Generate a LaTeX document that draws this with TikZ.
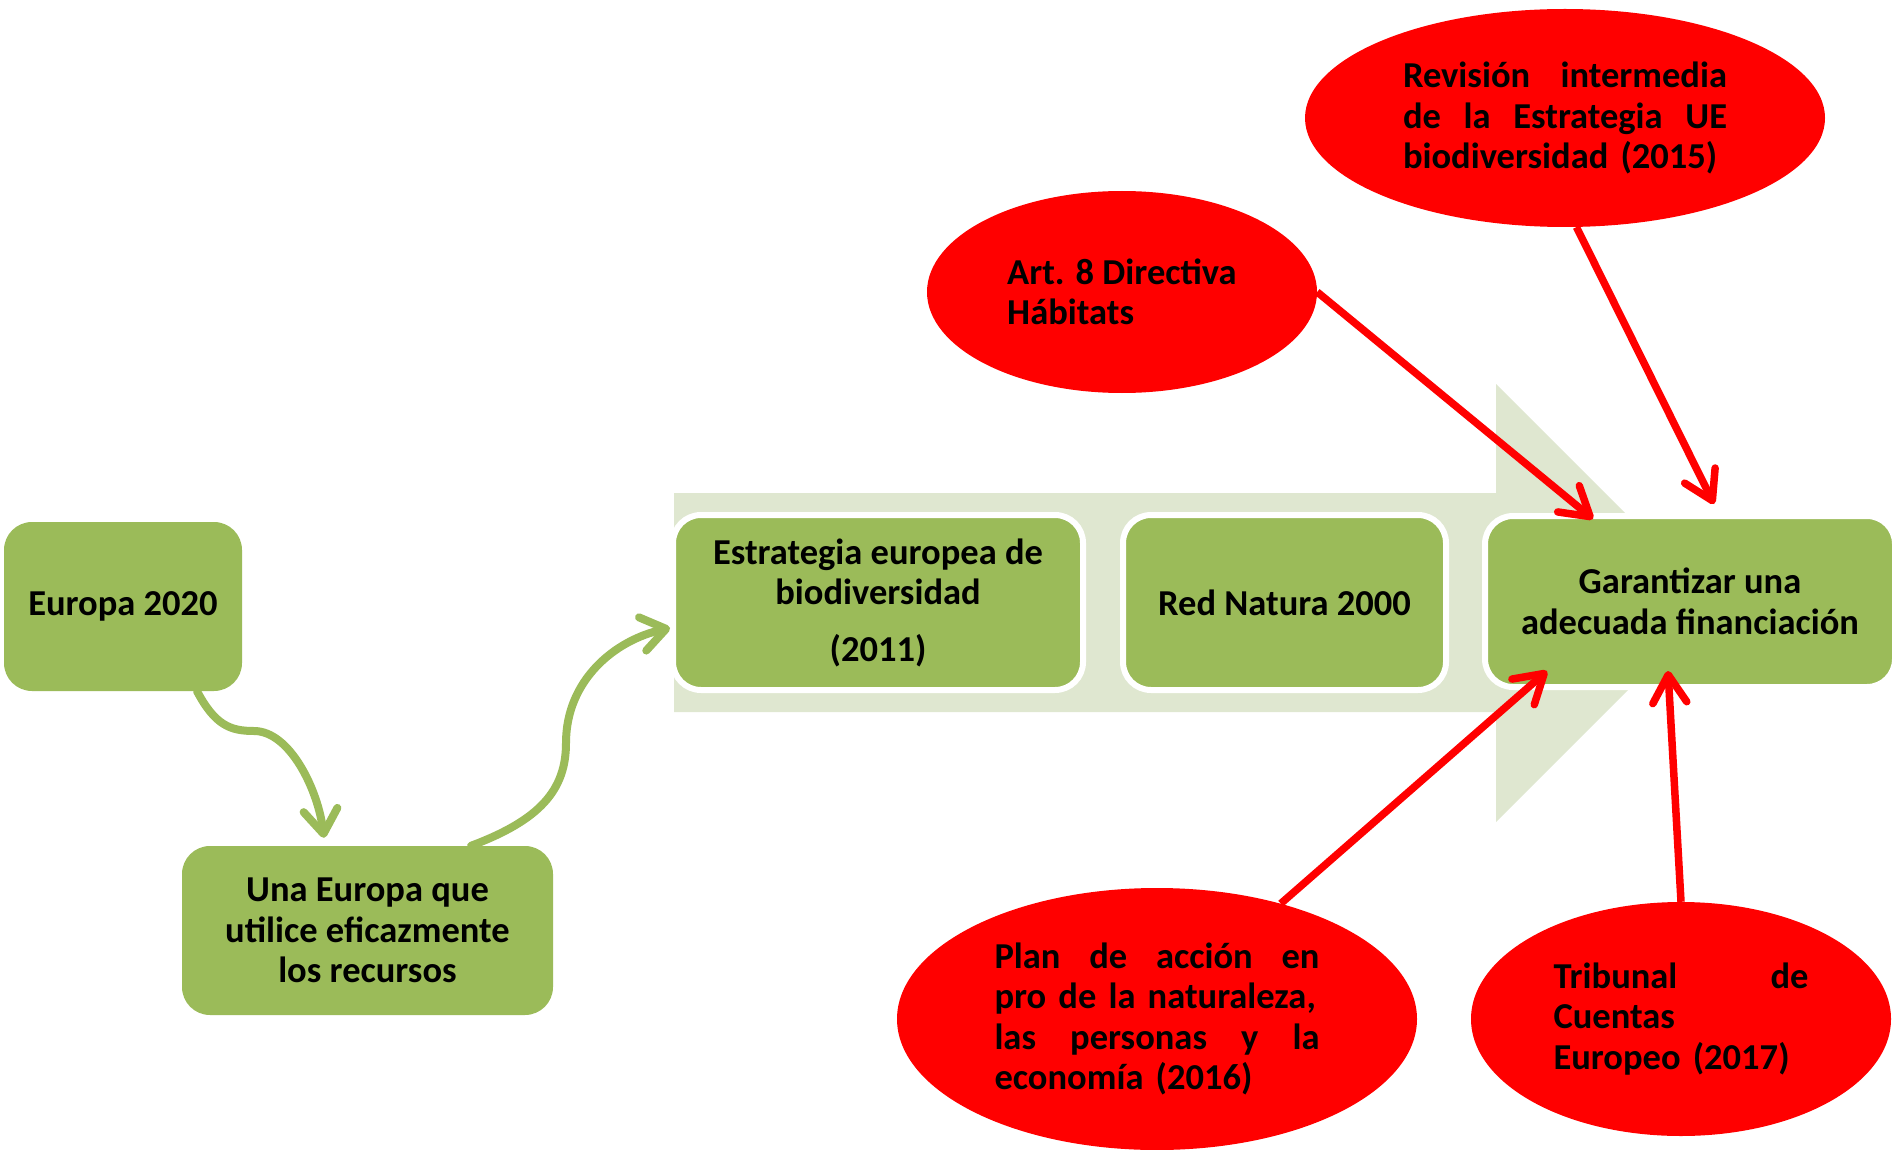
\documentclass[tikz,border=0pt]{standalone}
\usepackage{fontspec}
\setmainfont{Carlito}
\usetikzlibrary{shapes.geometric,arrows.meta,calc}
\definecolor{boxgreen}{HTML}{9BBB59}
\definecolor{bggreen}{HTML}{DFE7D0}
\definecolor{ellred}{HTML}{FF0000}
\begin{document}
\begin{tikzpicture}[x=1pt,y=-1pt,
  every node/.style={font=\fontsize{36.5}{40.5}\selectfont\bfseries},
  gbox/.style={fill=boxgreen, rounded corners=28pt, inner sep=0pt, align=center},
  wbox/.style={gbox, draw=white, line width=6pt},
  redell/.style={ellipse, fill=ellred, inner sep=0pt},
  garrow/.style={draw=boxgreen, line width=8pt, line cap=round, -{Straight Barb[length=24pt,width=34pt,round]}},
  rarrow/.style={draw=ellred, line width=7.5pt, -{Straight Barb[length=28pt,width=34pt,round]}}
]
\useasboundingbox (0,0) rectangle (1895,1150);
% background arrow
\fill[bggreen] (674,493) -- (1496,493) -- (1496,384) -- (1715,603) -- (1496,822) -- (1496,712) -- (674,712) -- cycle;
% boxes
\node[gbox, minimum width=238pt, minimum height=169pt] (e2020) at (123,606.5) {Europa 2020};
\node[gbox, minimum width=371pt, minimum height=169pt] (una) at (367.5,930.5) {Una Europa que\\utilice eficazmente\\los recursos};
\node[wbox, minimum width=410pt, minimum height=175pt] (estr) at (878,602.5) {Estrategia europea de\\biodiversidad\\[16pt](2011)};
\node[wbox, minimum width=323pt, minimum height=175pt] (red) at (1284.5,602.5) {Red Natura 2000};
\node[wbox, minimum width=410pt, minimum height=171pt] (gar) at (1690,601.5) {Garantizar una\\adecuada financiación};
% ellipses
\node[redell, minimum width=520pt, minimum height=218pt, text width=324pt, align=left] (rev) at (1565,118)
  {\makebox[324pt][l]{Revisión\hfill intermedia}\\\makebox[324pt][l]{de\hfill la\hfill Estrategia\hfill UE}\\biodiversidad (2015)};
\node[redell, minimum width=390pt, minimum height=202pt, align=left] (art) at (1122,292)
  {Art. 8 Directiva\\Hábitats};
\node[redell, minimum width=520pt, minimum height=262pt, text width=325pt, align=left] (plan) at (1157,1019)
  {\makebox[325pt][l]{Plan\hfill de\hfill acción\hfill en}\\\makebox[325pt][l]{pro de la naturaleza,}\\\makebox[325pt][l]{las\hfill personas\hfill y\hfill la}\\economía (2016)};
\node[redell, minimum width=420pt, minimum height=234pt, text width=255pt, align=left] (trib) at (1681,1019)
  {\makebox[255pt][l]{Tribunal\hfill de}\\Cuentas\\Europeo (2017)};
% green connectors
\draw[garrow] ($(e2020.south)+(74,0)$) .. controls (215,725) and (230,731) .. (254,731)
  .. controls (290,731) and (318,790) .. ($(una.north)+(-43.5,-8)$);
\draw[garrow] ($(una.north)+(103.5,0)$) .. controls (540,820) and (566,790) .. (566,743)
  .. controls (566,680) and (615,640) .. ($(estr.west)+(0,25.5)$);
% red connectors
\draw[rarrow] (art.east) -- ($(gar.north)+(-97,6)$);
\draw[rarrow] (rev.-84) -- ($(gar.north)+(24,-9)$);
\draw[rarrow] (plan.43) -- ($(gar.south)+(-143,-19)$);
\draw[rarrow] (trib.north) -- ($(gar.south)+(-22,-19)$);
\end{tikzpicture}
\end{document}
